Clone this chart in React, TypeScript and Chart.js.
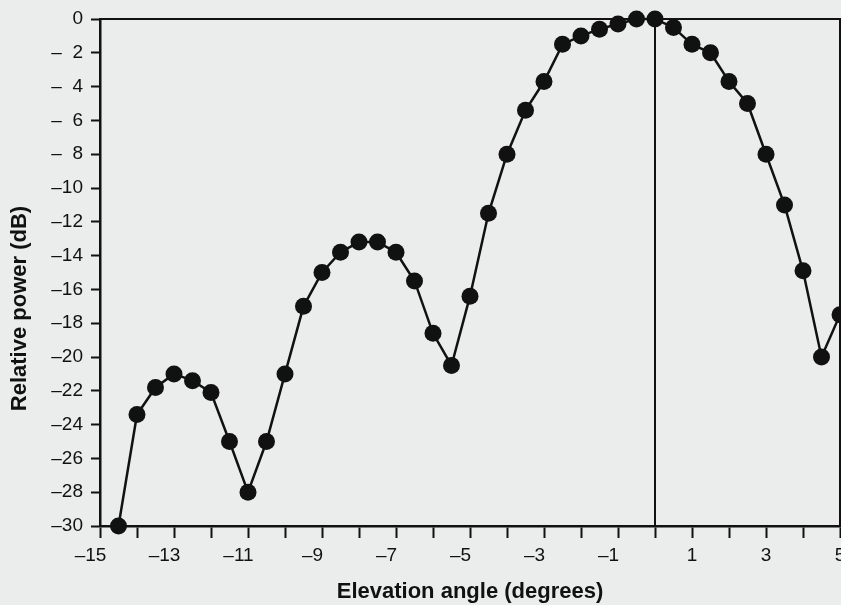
import React, { useEffect, useRef } from "react";
import { Chart, registerables } from "chart.js";

Chart.register(...registerables);

const elevationAngles: number[] = [
  -14.5, -14, -13.5, -13, -12.5, -12, -11.5, -11, -10.5, -10,
  -9.5, -9, -8.5, -8, -7.5, -7, -6.5, -6, -5.5, -5,
  -4.5, -4, -3.5, -3, -2.5, -2, -1.5, -1, -0.5, 0,
  0.5, 1, 1.5, 2, 2.5, 3, 3.5, 4, 4.5, 5,
];
const relativePower: number[] = [
  -30, -23.4, -21.8, -21.0, -21.4, -22.1, -25.0, -28.0, -25.0, -21.0,
  -17.0, -15.0, -13.8, -13.2, -13.2, -13.8, -15.5, -18.6, -20.5, -16.4,
  -11.5, -8.0, -5.4, -3.7, -1.5, -1.0, -0.6, -0.3, 0, 0,
  -0.5, -1.5, -2.0, -3.7, -5.0, -8.0, -11.0, -14.9, -20.0, -17.5,
];
const xAxisTitle = "Elevation angle (degrees)";
const yAxisTitle = "Relative power (dB)";
const xMin = -15;
const xMax = 5;
const yMin = -30;
const yMax = 0;

const FONT = "'Liberation Sans', Arial, Helvetica, sans-serif";

const frame = {
  id: "frame",
  afterDatasetsDraw(chart: any) {
    const { ctx, chartArea, scales } = chart;
    ctx.save();
    ctx.strokeStyle = "#111";
    ctx.lineWidth = 2;
    ctx.beginPath();
    ctx.moveTo(chartArea.left, chartArea.top);
    ctx.lineTo(chartArea.right, chartArea.top);
    ctx.lineTo(chartArea.right, chartArea.bottom);
    ctx.stroke();
    const x0 = scales.x.getPixelForValue(0);
    ctx.beginPath();
    ctx.moveTo(x0, chartArea.top);
    ctx.lineTo(x0, chartArea.bottom);
    ctx.stroke();
    ctx.restore();
  },
  afterDraw(chart: any) {
    const { ctx, chartArea } = chart;
    ctx.save();
    ctx.fillStyle = "#111";
    ctx.font = "bold 22px " + FONT;
    ctx.textAlign = "center";
    ctx.textBaseline = "middle";
    ctx.translate(20, (chartArea.top + chartArea.bottom) / 2 + 36);
    ctx.rotate(-Math.PI / 2);
    ctx.fillText(yAxisTitle, 0, 0);
    ctx.restore();
  },
};

const fmtY = (v: number) => {
  if (v === 0) return "0";
  const a = Math.abs(v);
  return a < 10 ? "\u2013\u2007" + a : "\u2013" + a;
};
const fmtX = (v: number) => {
  if (Math.abs(v % 2) !== 1) return "";
  return v < 0 ? "\u2013" + Math.abs(v) + "\u2003" : String(v);
};

export default function App() {
  const ref = useRef<HTMLCanvasElement | null>(null);
  useEffect(() => {
    if (!ref.current) return;
    const chart = new Chart(ref.current, {
      type: "line",
      data: {
        datasets: [
          {
            data: elevationAngles.map((x, i) => ({ x, y: relativePower[i] })),
            borderColor: "#111",
            backgroundColor: "#111",
            borderWidth: 2.5,
            pointRadius: 8.5,
            pointHoverRadius: 8.5,
            pointBackgroundColor: "#111",
            pointBorderWidth: 0,
            tension: 0,
            clip: false as any,
          },
        ],
      },
      options: {
        responsive: false,
        animation: false,
        layout: { autoPadding: false, padding: { top: 19, right: 1, left: 0, bottom: 0 } },
        plugins: { legend: { display: false }, tooltip: { enabled: false } },
        scales: {
          x: {
            type: "linear",
            min: xMin,
            max: xMax,
            afterFit: (s: any) => {
              s.height = 79;
              s.paddingRight = 0;
              s.paddingLeft = 0;
            },
            afterBuildTicks: (s: any) => {
              const t = [];
              for (let v = xMin; v <= xMax; v++) t.push({ value: v });
              s.ticks = t;
            },
            grid: {
              display: true,
              drawOnChartArea: false,
              drawTicks: true,
              tickLength: 12,
              tickWidth: 2,
              tickColor: "#111",
            },
            border: { display: true, color: "#111", width: 2.5 },
            ticks: {
              autoSkip: false,
              maxRotation: 0,
              padding: 6,
              color: "#111",
              font: { family: FONT, size: 19 },
              callback: (v: any) => fmtX(Number(v)),
            },
            title: {
              display: true,
              text: xAxisTitle,
              color: "#111",
              font: { family: FONT, size: 22, weight: "bold" },
              padding: { top: 0, bottom: 0 },
            },
          },
          y: {
            type: "linear",
            min: yMin,
            max: yMax,
            afterFit: (s: any) => {
              s.width = 100;
              s.paddingTop = 0;
              s.paddingBottom = 0;
            },
            ticks: {
              stepSize: 2,
              padding: 8,
              color: "#111",
              font: { family: FONT, size: 19 },
              callback: (v: any) => fmtY(Number(v)),
            },
            grid: {
              display: true,
              drawOnChartArea: false,
              drawTicks: true,
              tickLength: 9,
              tickWidth: 2,
              tickColor: "#111",
            },
            border: { display: true, color: "#111", width: 2.5 },
            title: { display: false },
          },
        },
      },
      plugins: [frame],
    });
    return () => chart.destroy();
  }, []);
  return (
    <div
      style={{
        position: "fixed",
        left: 0,
        top: 0,
        width: 841,
        height: 605,
        background: "#ebedec",
      }}
    >
      <canvas ref={ref} width={841} height={605} style={{ display: "block" }} />
    </div>
  );
}
